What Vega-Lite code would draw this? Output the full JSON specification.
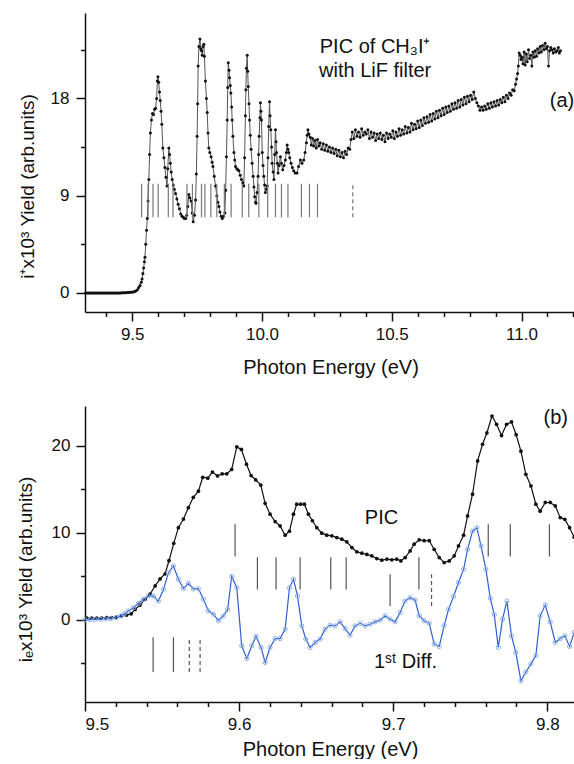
{
"$schema": "https://vega.github.io/schema/vega-lite/v6.json",
"background": "white",
"padding": {"left": 16, "top": 13, "right": 0, "bottom": 0},
"autosize": {"type": "pad"},
"bounds": "flush",
"spacing": 94,
"config": {
  "font": "Liberation Sans",
  "view": {"stroke": null},
  "axis": {"domainColor": "#111", "domainWidth": 1.5, "tickColor": "#111", "tickWidth": 1.5, "labelFontSize": 17, "labelColor": "#111", "titleFontSize": 19, "titleFontWeight": "normal", "titleColor": "#111", "grid": false}
},
"datasets": {
  "a": [
{"e":9.320,"y":0},{"e":9.325,"y":0},{"e":9.330,"y":0},{"e":9.335,"y":0},{"e":9.340,"y":0},{"e":9.345,"y":0},{"e":9.350,"y":0},{"e":9.355,"y":0},{"e":9.360,"y":0},{"e":9.365,"y":0},{"e":9.370,"y":0},{"e":9.375,"y":0},{"e":9.380,"y":0},{"e":9.385,"y":0},{"e":9.390,"y":0},{"e":9.395,"y":0},{"e":9.400,"y":0},{"e":9.405,"y":0},{"e":9.410,"y":0},{"e":9.415,"y":0},{"e":9.420,"y":0},{"e":9.425,"y":0},{"e":9.430,"y":0},{"e":9.435,"y":0},{"e":9.440,"y":0},{"e":9.445,"y":0},{"e":9.450,"y":0},{"e":9.455,"y":0},{"e":9.460,"y":0.02},{"e":9.465,"y":0.02},{"e":9.470,"y":0.03},{"e":9.475,"y":0.03},{"e":9.480,"y":0.04},{"e":9.485,"y":0.05},{"e":9.490,"y":0.06},{"e":9.495,"y":0.07},{"e":9.500,"y":0.08},{"e":9.505,"y":0.1},{"e":9.510,"y":0.13},{"e":9.515,"y":0.2},
{"e":9.520,"y":0.3},{"e":9.525,"y":0.5},{"e":9.530,"y":0.7},{"e":9.535,"y":1.0},{"e":9.538,"y":1.3},{"e":9.541,"y":1.8},{"e":9.544,"y":2.3},{"e":9.547,"y":2.9},{"e":9.549,"y":3.3},{"e":9.552,"y":4.5},{"e":9.555,"y":5.8},{"e":9.558,"y":6.9},{"e":9.561,"y":8.5},{"e":9.564,"y":10.5},{"e":9.567,"y":12.8},{"e":9.570,"y":14.8},{"e":9.574,"y":16.0},{"e":9.578,"y":16.6},{"e":9.582,"y":16.5},{"e":9.586,"y":17.0},{"e":9.590,"y":17.1},{"e":9.594,"y":18.0},{"e":9.597,"y":19.6},{"e":9.599,"y":20.0},{"e":9.602,"y":19.5},{"e":9.605,"y":18.6},{"e":9.608,"y":17.8},{"e":9.611,"y":16.8},{"e":9.614,"y":15.6},{"e":9.618,"y":13.4},{"e":9.622,"y":12.5},{"e":9.626,"y":11.6},{"e":9.630,"y":10.7},{"e":9.634,"y":9.9},{"e":9.637,"y":11.5},{"e":9.641,"y":13.4},{"e":9.644,"y":12.8},{"e":9.647,"y":12.0},{"e":9.650,"y":11.2},{"e":9.654,"y":10.5},{"e":9.658,"y":10.0},{"e":9.662,"y":9.6},{"e":9.667,"y":9.2},{"e":9.672,"y":8.7},{"e":9.677,"y":8.2},{"e":9.682,"y":7.8},{"e":9.687,"y":7.3},{"e":9.692,"y":7.1},{"e":9.697,"y":7.0},{"e":9.701,"y":6.9},{"e":9.706,"y":6.9},{"e":9.710,"y":7.2},{"e":9.714,"y":8.0},{"e":9.718,"y":9.1},{"e":9.722,"y":8.8},{"e":9.727,"y":8.5},{"e":9.731,"y":7.4},{"e":9.735,"y":6.6},{"e":9.740,"y":7.2},{"e":9.744,"y":8.6},{"e":9.747,"y":11.0},{"e":9.750,"y":14.5},{"e":9.752,"y":17.5},{"e":9.754,"y":21.0},{"e":9.757,"y":22.8},{"e":9.761,"y":23.5},{"e":9.764,"y":22.6},{"e":9.767,"y":22.4},{"e":9.770,"y":22.0},{"e":9.773,"y":22.8},{"e":9.776,"y":23.0},{"e":9.778,"y":21.9},{"e":9.782,"y":19.6},{"e":9.786,"y":18.0},{"e":9.789,"y":16.7},{"e":9.792,"y":14.8},{"e":9.795,"y":13.4},{"e":9.799,"y":13.0},{"e":9.804,"y":12.6},{"e":9.808,"y":12.1},{"e":9.811,"y":11.7},{"e":9.816,"y":10.8},{"e":9.821,"y":9.9},{"e":9.826,"y":9.0},{"e":9.830,"y":8.4},{"e":9.834,"y":8.0},{"e":9.838,"y":7.5},{"e":9.843,"y":7.1},{"e":9.847,"y":6.9},{"e":9.852,"y":7.1},{"e":9.857,"y":7.4},{"e":9.860,"y":9.5},{"e":9.863,"y":12.6},{"e":9.866,"y":16.0},{"e":9.868,"y":19.0},{"e":9.870,"y":21.3},{"e":9.873,"y":20.6},{"e":9.875,"y":19.9},{"e":9.878,"y":19.2},{"e":9.880,"y":18.5},{"e":9.883,"y":17.2},{"e":9.885,"y":16.0},{"e":9.888,"y":14.5},{"e":9.892,"y":13.0},{"e":9.895,"y":12.3},{"e":9.898,"y":11.7},{"e":9.903,"y":11.5},{"e":9.907,"y":11.4},{"e":9.911,"y":11.3},{"e":9.916,"y":10.9},{"e":9.921,"y":10.5},{"e":9.926,"y":10.2},{"e":9.930,"y":9.9},{"e":9.933,"y":12.5},{"e":9.936,"y":16.4},{"e":9.938,"y":18.8},{"e":9.940,"y":20.8},{"e":9.943,"y":22.0},{"e":9.945,"y":20.5},{"e":9.947,"y":19.1},{"e":9.950,"y":17.5},{"e":9.952,"y":16.0},{"e":9.955,"y":14.6},{"e":9.958,"y":13.3},{"e":9.962,"y":12.0},{"e":9.966,"y":10.8},{"e":9.969,"y":9.8},{"e":9.972,"y":8.9},{"e":9.975,"y":8.4},{"e":9.977,"y":8.3},{"e":9.981,"y":9.3},{"e":9.985,"y":10.8},{"e":9.987,"y":12.8},{"e":9.989,"y":14.5},{"e":9.992,"y":16.2},{"e":9.994,"y":17.6},{"e":9.996,"y":16.8},{"e":9.998,"y":16.0},{"e":10.001,"y":13.0},{"e":10.004,"y":11.8},{"e":10.007,"y":10.8},{"e":10.010,"y":10.0},{"e":10.013,"y":9.3},{"e":10.017,"y":9.6},{"e":10.020,"y":9.9},{"e":10.023,"y":12.5},{"e":10.026,"y":15.4},{"e":10.029,"y":17.7},{"e":10.031,"y":16.4},{"e":10.034,"y":15.1},{"e":10.037,"y":13.5},{"e":10.039,"y":12.0},{"e":10.043,"y":11.2},{"e":10.046,"y":10.5},{"e":10.049,"y":12.8},{"e":10.052,"y":15.1},{"e":10.054,"y":14.0},{"e":10.056,"y":13.0},{"e":10.059,"y":12.0},{"e":10.062,"y":11.1},{"e":10.066,"y":11.8},{"e":10.071,"y":12.6},{"e":10.075,"y":12.0},{"e":10.080,"y":11.4},{"e":10.085,"y":11.8},{"e":10.090,"y":12.3},{"e":10.094,"y":13.0},{"e":10.097,"y":13.7},{"e":10.100,"y":13.3},{"e":10.103,"y":13.0},{"e":10.107,"y":12.5},{"e":10.112,"y":12.0},{"e":10.117,"y":11.6},{"e":10.122,"y":11.3},{"e":10.128,"y":11.1},{"e":10.135,"y":11.1},{"e":10.141,"y":11.7},{"e":10.148,"y":12.3},{"e":10.154,"y":12.0},{"e":10.161,"y":12.3},{"e":10.166,"y":13.0},{"e":10.171,"y":13.9},{"e":10.174,"y":14.6},{"e":10.177,"y":15.1},{"e":10.181,"y":14.7},
{"e":10.186,"y":14.4},{"e":10.190,"y":13.7},{"e":10.195,"y":14.3},{"e":10.199,"y":13.6},{"e":10.204,"y":14.1},{"e":10.209,"y":13.4},{"e":10.214,"y":14.2},{"e":10.219,"y":13.6},{"e":10.224,"y":13.9},{"e":10.230,"y":13.3},{"e":10.236,"y":13.8},{"e":10.242,"y":13.2},{"e":10.248,"y":13.7},{"e":10.254,"y":13.1},{"e":10.260,"y":13.5},{"e":10.266,"y":13.0},{"e":10.272,"y":13.4},{"e":10.278,"y":12.9},{"e":10.284,"y":13.3},{"e":10.290,"y":12.7},{"e":10.296,"y":13.2},{"e":10.302,"y":12.6},{"e":10.308,"y":13.0},{"e":10.314,"y":12.5},{"e":10.320,"y":13.1},{"e":10.326,"y":12.8},{"e":10.332,"y":13.4},{"e":10.338,"y":13.3},{"e":10.343,"y":14.2},
{"e":10.348,"y":14.9},{"e":10.354,"y":14.3},{"e":10.360,"y":15.1},{"e":10.366,"y":14.5},{"e":10.372,"y":14.9},{"e":10.378,"y":14.4},{"e":10.384,"y":15.2},{"e":10.390,"y":14.6},{"e":10.396,"y":14.9},{"e":10.402,"y":14.7},{"e":10.408,"y":15.1},{"e":10.414,"y":14.3},{"e":10.420,"y":14.9},{"e":10.426,"y":14.4},{"e":10.432,"y":14.8},{"e":10.438,"y":14.1},{"e":10.444,"y":14.7},{"e":10.450,"y":14.3},{"e":10.456,"y":14.8},{"e":10.462,"y":14.2},{"e":10.468,"y":14.6},{"e":10.474,"y":14.0},{"e":10.480,"y":14.8},{"e":10.486,"y":14.3},{"e":10.492,"y":14.7},{"e":10.498,"y":14.4},{"e":10.504,"y":15.0},{"e":10.510,"y":14.3},{"e":10.516,"y":14.9},{"e":10.522,"y":14.5},{"e":10.528,"y":15.2},{"e":10.534,"y":14.6},{"e":10.540,"y":15.1},{"e":10.546,"y":14.7},{"e":10.552,"y":15.4},{"e":10.558,"y":14.8},{"e":10.564,"y":15.3},{"e":10.570,"y":14.9},{"e":10.576,"y":15.7},{"e":10.582,"y":15.1},{"e":10.588,"y":15.6},{"e":10.594,"y":15.2},{"e":10.600,"y":15.9},{"e":10.606,"y":15.3},{"e":10.612,"y":16.0},{"e":10.618,"y":15.5},{"e":10.624,"y":16.2},{"e":10.630,"y":15.7},{"e":10.636,"y":16.3},{"e":10.642,"y":15.8},{"e":10.648,"y":16.5},{"e":10.654,"y":15.9},{"e":10.660,"y":16.6},{"e":10.666,"y":16.1},{"e":10.672,"y":16.8},{"e":10.678,"y":16.2},{"e":10.684,"y":16.9},{"e":10.690,"y":16.4},{"e":10.696,"y":17.1},{"e":10.702,"y":16.5},{"e":10.708,"y":17.2},{"e":10.714,"y":16.7},{"e":10.720,"y":17.3},{"e":10.726,"y":16.8},{"e":10.732,"y":17.5},{"e":10.738,"y":17.0},{"e":10.744,"y":17.6},{"e":10.750,"y":17.1},{"e":10.756,"y":17.8},{"e":10.762,"y":17.2},{"e":10.768,"y":17.9},{"e":10.774,"y":17.4},{"e":10.780,"y":18.1},{"e":10.786,"y":17.5},{"e":10.792,"y":18.2},{"e":10.798,"y":17.7},{"e":10.804,"y":18.3},{"e":10.810,"y":17.9},{"e":10.816,"y":18.6},{"e":10.822,"y":18.0},{"e":10.828,"y":17.6},{"e":10.834,"y":17.3},{"e":10.840,"y":16.9},{"e":10.846,"y":17.2},{"e":10.852,"y":16.9},{"e":10.858,"y":17.3},{"e":10.864,"y":17.0},{"e":10.870,"y":17.5},{"e":10.876,"y":17.1},{"e":10.882,"y":17.6},{"e":10.888,"y":17.2},{"e":10.894,"y":17.7},{"e":10.900,"y":17.3},{"e":10.906,"y":17.8},{"e":10.912,"y":17.4},{"e":10.918,"y":17.9},{"e":10.924,"y":17.6},{"e":10.930,"y":18.1},{"e":10.936,"y":17.7},{"e":10.942,"y":18.3},{"e":10.948,"y":18.0},{"e":10.954,"y":18.5},{"e":10.960,"y":18.3},{"e":10.966,"y":18.8},{"e":10.972,"y":18.7},
{"e":10.977,"y":19.3},{"e":10.981,"y":19.8},{"e":10.985,"y":20.3},{"e":10.988,"y":21.0},{"e":10.991,"y":22.2},{"e":10.995,"y":22.0},{"e":10.998,"y":21.6},{"e":11.002,"y":21.8},{"e":11.006,"y":21.2},{"e":11.010,"y":22.3},{"e":11.014,"y":21.1},{"e":11.018,"y":22.1},{"e":11.022,"y":21.4},{"e":11.027,"y":22.5},{"e":11.031,"y":21.7},{"e":11.036,"y":22.0},{"e":11.040,"y":21.0},{"e":11.044,"y":22.3},{"e":11.049,"y":21.8},{"e":11.053,"y":22.4},{"e":11.058,"y":21.9},{"e":11.062,"y":22.6},{"e":11.067,"y":22.2},{"e":11.072,"y":22.8},{"e":11.076,"y":22.3},{"e":11.081,"y":22.9},{"e":11.086,"y":22.5},{"e":11.091,"y":23.1},{"e":11.095,"y":22.6},{"e":11.100,"y":22.8},{"e":11.104,"y":21.0},{"e":11.108,"y":22.4},{"e":11.113,"y":22.7},{"e":11.117,"y":22.5},{"e":11.122,"y":22.2},{"e":11.127,"y":22.6},{"e":11.132,"y":22.3},{"e":11.137,"y":22.4},{"e":11.142,"y":22.7},{"e":11.146,"y":22.2},{"e":11.150,"y":22.4}
  ],
  "ticksA": [
{"e":9.536,"lo":7.0,"hi":10.1,"k":"solid"},{"e":9.561,"lo":7.0,"hi":10.1,"k":"solid"},{"e":9.580,"lo":7.0,"hi":10.1,"k":"solid"},{"e":9.600,"lo":7.0,"hi":10.1,"k":"solid"},{"e":9.639,"lo":7.0,"hi":10.1,"k":"solid"},{"e":9.657,"lo":7.0,"hi":10.1,"k":"solid"},{"e":9.711,"lo":7.0,"hi":10.1,"k":"solid"},{"e":9.732,"lo":7.0,"hi":10.1,"k":"solid"},{"e":9.767,"lo":7.0,"hi":10.1,"k":"solid"},{"e":9.780,"lo":7.0,"hi":10.1,"k":"solid"},{"e":9.803,"lo":7.0,"hi":10.1,"k":"solid"},{"e":9.826,"lo":7.0,"hi":10.1,"k":"solid"},{"e":9.855,"lo":7.0,"hi":10.1,"k":"solid"},{"e":9.881,"lo":7.0,"hi":10.1,"k":"solid"},{"e":9.924,"lo":7.0,"hi":10.1,"k":"solid"},{"e":9.949,"lo":7.0,"hi":10.1,"k":"solid"},{"e":9.988,"lo":7.0,"hi":10.1,"k":"solid"},{"e":10.022,"lo":7.0,"hi":10.1,"k":"solid"},{"e":10.052,"lo":7.0,"hi":10.1,"k":"solid"},{"e":10.075,"lo":7.0,"hi":10.1,"k":"solid"},{"e":10.100,"lo":7.0,"hi":10.1,"k":"solid"},{"e":10.152,"lo":7.0,"hi":10.1,"k":"solid"},{"e":10.183,"lo":7.0,"hi":10.1,"k":"solid"},{"e":10.214,"lo":7.0,"hi":10.1,"k":"solid"},{"e":10.350,"lo":7.0,"hi":10.1,"k":"dashed"}
  ],
  "labA": [
{"e":10.436,"y":22.8,"t":"PIC of CH₃I⁺"},{"e":10.436,"y":20.5,"t":"with LiF filter"},{"e":11.156,"y":17.74,"t":"(a)"}
  ],
  "bpic": [
{"e":9.5011,"y":0.2},{"e":9.5043,"y":0.2},{"e":9.5076,"y":0.2},{"e":9.5108,"y":0.2},{"e":9.5141,"y":0.25},{"e":9.5173,"y":0.25},{"e":9.5206,"y":0.3},{"e":9.5238,"y":0.46},{"e":9.527,"y":0.55},{"e":9.530,"y":0.7},{"e":9.5325,"y":1.2},{"e":9.5357,"y":1.7},{"e":9.539,"y":2.36},{"e":9.5422,"y":2.95},{"e":9.5455,"y":3.9},{"e":9.5487,"y":4.7},{"e":9.552,"y":5.3},{"e":9.5545,"y":6.8},{"e":9.5576,"y":8.8},{"e":9.5606,"y":10.6},{"e":9.5639,"y":11.6},{"e":9.5671,"y":12.9},{"e":9.5703,"y":14.1},{"e":9.5736,"y":14.8},{"e":9.5764,"y":16.4},{"e":9.5797,"y":16.3},{"e":9.5827,"y":17.0},{"e":9.586,"y":16.55},{"e":9.589,"y":16.8},{"e":9.592,"y":16.8},{"e":9.5952,"y":17.3},{"e":9.5985,"y":19.9},{"e":9.6015,"y":19.6},{"e":9.6048,"y":17.9},{"e":9.6078,"y":16.6},{"e":9.6108,"y":16.1},{"e":9.6141,"y":15.5},{"e":9.6169,"y":13.4},{"e":9.6201,"y":12.15},{"e":9.6234,"y":11.3},{"e":9.6266,"y":10.8},{"e":9.6299,"y":9.74},{"e":9.6327,"y":10.2},{"e":9.6353,"y":12.15},{"e":9.6374,"y":13.3},{"e":9.640,"y":13.3},{"e":9.6424,"y":13.3},{"e":9.645,"y":12.15},{"e":9.6476,"y":11.4},{"e":9.6504,"y":10.6},{"e":9.6537,"y":9.97},{"e":9.6569,"y":9.74},{"e":9.6602,"y":9.66},{"e":9.6634,"y":9.47},{"e":9.6667,"y":9.28},{"e":9.6699,"y":8.97},{"e":9.6732,"y":8.32},{"e":9.6764,"y":7.82},{"e":9.6797,"y":7.67},{"e":9.6829,"y":7.52},{"e":9.6861,"y":7.36},{"e":9.6894,"y":7.05},{"e":9.6926,"y":6.86},{"e":9.6959,"y":6.98},{"e":9.6991,"y":6.9},{"e":9.7023,"y":6.98},{"e":9.705,"y":6.78},{"e":9.7078,"y":7.17},{"e":9.711,"y":7.93},{"e":9.7136,"y":8.7},{"e":9.7169,"y":9.2},{"e":9.7201,"y":9.1},{"e":9.7234,"y":9.1},{"e":9.7266,"y":8.12},{"e":9.7299,"y":7.17},{"e":9.7331,"y":6.59},{"e":9.7364,"y":6.78},{"e":9.7396,"y":7.36},{"e":9.7424,"y":8.5},{"e":9.7457,"y":9.74},{"e":9.7483,"y":11.96},{"e":9.7515,"y":14.45},{"e":9.7548,"y":18.28},{"e":9.758,"y":20.2},{"e":9.7608,"y":21.5},{"e":9.7641,"y":23.45},{"e":9.7671,"y":22.5},{"e":9.7703,"y":21.2},{"e":9.7736,"y":22.5},{"e":9.7768,"y":22.76},{"e":9.7798,"y":21.3},{"e":9.7829,"y":19.4},{"e":9.7861,"y":16.74},{"e":9.7894,"y":15.4},{"e":9.7926,"y":13.3},{"e":9.7954,"y":12.5},{"e":9.7987,"y":13.5},{"e":9.8019,"y":13.5},{"e":9.8052,"y":13.1},{"e":9.8084,"y":11.76},{"e":9.8114,"y":11.56},{"e":9.8145,"y":10.6},{"e":9.8175,"y":9.5}
  ],
  "bdiff": [
{"e":9.5,"y":0},{"e":9.5033,"y":0.02},{"e":9.5066,"y":0.05},{"e":9.51,"y":0.05},{"e":9.5133,"y":0.1},{"e":9.5166,"y":0.15},{"e":9.52,"y":0.25},{"e":9.5233,"y":0.45},{"e":9.5255,"y":0.7},{"e":9.5281,"y":1.03},{"e":9.5314,"y":1.4},{"e":9.5346,"y":1.9},{"e":9.5379,"y":2.36},{"e":9.541,"y":2.74},{"e":9.5444,"y":2.74},{"e":9.5476,"y":2.16},{"e":9.5509,"y":3.5},{"e":9.5541,"y":5.4},{"e":9.5574,"y":6.2},{"e":9.5606,"y":4.67},{"e":9.5639,"y":3.6},{"e":9.5671,"y":4.2},{"e":9.5703,"y":3.56},{"e":9.5736,"y":3.6},{"e":9.5768,"y":2.4},{"e":9.5801,"y":1.03},{"e":9.5833,"y":0.65},{"e":9.5866,"y":-0.1},{"e":9.5898,"y":0.46},{"e":9.5926,"y":1.2},{"e":9.5952,"y":5.0},{"e":9.5985,"y":3.7},{"e":9.6017,"y":-2.98},{"e":9.605,"y":-4.44},{"e":9.6082,"y":-2.98},{"e":9.611,"y":-1.9},{"e":9.6143,"y":-3.2},{"e":9.6169,"y":-4.9},{"e":9.6201,"y":-3.18},{"e":9.6234,"y":-2.15},{"e":9.6266,"y":-2.15},{"e":9.6299,"y":-1.07},{"e":9.6327,"y":3.7},{"e":9.6353,"y":4.67},{"e":9.6379,"y":2.75},{"e":9.6407,"y":-0.7},{"e":9.6433,"y":-2.2},{"e":9.6461,"y":-3.18},{"e":9.6494,"y":-2.6},{"e":9.6526,"y":-2.2},{"e":9.6558,"y":-1.07},{"e":9.6591,"y":-0.6},{"e":9.6623,"y":-0.7},{"e":9.6656,"y":-0.23},{"e":9.6688,"y":-1.0},{"e":9.672,"y":-1.76},{"e":9.6753,"y":-0.7},{"e":9.6786,"y":-0.4},{"e":9.6818,"y":-0.7},{"e":9.685,"y":-0.5},{"e":9.6883,"y":-0.23},{"e":9.6915,"y":-0.04},{"e":9.6948,"y":0.46},{"e":9.698,"y":0.08},{"e":9.7012,"y":-0.23},{"e":9.7045,"y":0.84},{"e":9.7077,"y":2.16},{"e":9.711,"y":2.54},{"e":9.7142,"y":2.28},{"e":9.7169,"y":0.46},{"e":9.7201,"y":-0.1},{"e":9.7234,"y":-0.4},{"e":9.7266,"y":-2.8},{"e":9.7299,"y":-3.06},{"e":9.7331,"y":-0.67},{"e":9.7359,"y":1.2},{"e":9.7392,"y":2.7},{"e":9.7424,"y":4.3},{"e":9.7457,"y":5.8},{"e":9.7483,"y":8.1},{"e":9.7515,"y":10.2},{"e":9.7543,"y":10.6},{"e":9.757,"y":8.5},{"e":9.7602,"y":5.8},{"e":9.763,"y":2.5},{"e":9.7656,"y":0.6},{"e":9.7682,"y":-3.18},{"e":9.771,"y":0.08},{"e":9.7738,"y":2.16},{"e":9.7768,"y":-1.84},{"e":9.7796,"y":-3.75},{"e":9.7829,"y":-7.0},{"e":9.7861,"y":-6.0},{"e":9.7894,"y":-5.06},{"e":9.7926,"y":-4.1},{"e":9.7954,"y":0.46},{"e":9.7987,"y":1.7},{"e":9.8019,"y":-0.23},{"e":9.8052,"y":-2.6},{"e":9.8084,"y":-2.15},{"e":9.8114,"y":-1.84},{"e":9.8145,"y":-3.06},{"e":9.8175,"y":-1.45}
  ],
  "ticksB": [
{"e":9.5974,"lo":7.3,"hi":11.0,"k":"solid"},{"e":9.7617,"lo":7.3,"hi":11.0,"k":"solid"},{"e":9.776,"lo":7.3,"hi":11.0,"k":"solid"},{"e":9.8014,"lo":7.3,"hi":11.0,"k":"solid"},
{"e":9.6119,"lo":3.5,"hi":7.2,"k":"solid"},{"e":9.624,"lo":3.5,"hi":7.2,"k":"solid"},{"e":9.6396,"lo":3.5,"hi":7.2,"k":"solid"},{"e":9.6595,"lo":3.5,"hi":7.2,"k":"solid"},{"e":9.6695,"lo":3.5,"hi":7.2,"k":"solid"},{"e":9.7167,"lo":3.5,"hi":7.2,"k":"solid"},
{"e":9.698,"lo":1.6,"hi":5.25,"k":"solid"},{"e":9.7249,"lo":1.6,"hi":5.25,"k":"dashed"},
{"e":9.5442,"lo":-6.0,"hi":-2.0,"k":"solid"},{"e":9.5574,"lo":-6.0,"hi":-2.0,"k":"solid"},{"e":9.5677,"lo":-6.0,"hi":-2.0,"k":"dashed"},{"e":9.5747,"lo":-6.0,"hi":-2.0,"k":"dashed"}
  ],
  "labB": [
{"e":9.8055,"y":23.26,"t":"(b)"},{"e":9.6924,"y":11.77,"t":"PIC"},{"e":9.708,"y":-4.86,"t":"1ˢᵗ Diff."}
  ]
},
"vconcat": [
{
  "width": 491, "height": 299,
  "resolve": {"axis": {"x": "independent", "y": "independent"}},
  "layer": [
    {"data": {"name": "a"}, "mark": {"type": "line", "color": "#555", "strokeWidth": 1},
     "encoding": {
       "x": {"field": "e", "type": "quantitative", "scale": {"domain": [9.318, 11.21], "nice": false, "zero": false},
             "axis": {"orient": "bottom", "values": [9.5, 10, 10.5, 11], "format": ".1f", "title": "Photon Energy (eV)", "tickSize": 9, "labelPadding": 5, "titleFontSize": 20, "titleY": 55, "titleBaseline": "middle"}},
       "y": {"field": "y", "type": "quantitative", "scale": {"domain": [-1.76, 25.9], "nice": false, "zero": false},
             "axis": {"orient": "left", "values": [0, 9, 18], "title": "i⁺x10³ Yield (arb.units)", "tickSize": 9, "labelPadding": 7, "titleX": -58, "titleY": 173, "titleBaseline": "middle"}}
     }},
    {"data": {"name": "a"}, "mark": {"type": "point", "filled": true, "color": "#111", "size": 9, "opacity": 1},
     "encoding": {
       "x": {"field": "e", "type": "quantitative", "scale": {"domain": [9.318, 11.21], "nice": false, "zero": false},
             "axis": {"orient": "bottom", "values": [9.4, 9.6, 9.7, 9.8, 9.9, 10.1, 10.2, 10.3, 10.4, 10.6, 10.7, 10.8, 10.9, 11.1, 11.2], "labels": false, "domain": false, "tickSize": 4.5, "title": null}},
       "y": {"field": "y", "type": "quantitative", "scale": {"domain": [-1.76, 25.9], "nice": false, "zero": false},
             "axis": {"orient": "left", "values": [4.5, 13.5, 22.5], "labels": false, "domain": false, "tickSize": 4.5, "title": null}}
     }},
    {"data": {"name": "ticksA"}, "mark": {"type": "rule", "color": "#777", "strokeWidth": 1.2},
     "encoding": {
       "x": {"field": "e", "type": "quantitative", "axis": null, "scale": {"domain": [9.318, 11.21], "nice": false, "zero": false}},
       "y": {"field": "lo", "type": "quantitative", "axis": null, "scale": {"domain": [-1.76, 25.9], "nice": false, "zero": false}},
       "y2": {"field": "hi"},
       "strokeDash": {"field": "k", "type": "nominal", "scale": {"domain": ["solid", "dashed"], "range": [[1, 0], [4, 3]]}, "legend": null}
     }},
    {"data": {"name": "labA"}, "mark": {"type": "text", "color": "#111", "align": "center", "baseline": "middle", "fontSize": 20},
     "encoding": {
       "x": {"field": "e", "type": "quantitative", "axis": null, "scale": {"domain": [9.318, 11.21], "nice": false, "zero": false}},
       "y": {"field": "y", "type": "quantitative", "axis": null, "scale": {"domain": [-1.76, 25.9], "nice": false, "zero": false}},
       "text": {"field": "t"}
     }}
  ]
},
{
  "width": 490, "height": 296,
  "resolve": {"axis": {"x": "independent", "y": "independent"}},
  "layer": [
    {"data": {"name": "bpic"}, "mark": {"type": "line", "color": "#111", "strokeWidth": 1.2},
     "encoding": {
       "x": {"field": "e", "type": "quantitative", "scale": {"domain": [9.5, 9.818], "nice": false, "zero": false},
             "axis": {"orient": "bottom", "values": [9.5, 9.6, 9.7, 9.8], "format": ".1f", "title": "Photon Energy (eV)", "tickSize": 9, "labelPadding": 5, "titleFontSize": 20, "titleY": 47, "titleBaseline": "middle"}},
       "y": {"field": "y", "type": "quantitative", "scale": {"domain": [-9.45, 24.6], "nice": false, "zero": false},
             "axis": {"orient": "left", "values": [0, 10, 20], "title": "iₑx10³ Yield (arb.units)", "tickSize": 9, "labelPadding": 6, "titleX": -60, "titleY": 163, "titleBaseline": "middle"}}
     }},
    {"data": {"name": "bpic"}, "mark": {"type": "point", "filled": true, "color": "#111", "size": 14, "opacity": 1},
     "encoding": {
       "x": {"field": "e", "type": "quantitative", "scale": {"domain": [9.5, 9.818], "nice": false, "zero": false},
             "axis": {"orient": "bottom", "values": [9.52, 9.54, 9.56, 9.58, 9.62, 9.64, 9.66, 9.68, 9.72, 9.74, 9.76, 9.78], "labels": false, "domain": false, "tickSize": 4.5, "title": null}},
       "y": {"field": "y", "type": "quantitative", "scale": {"domain": [-9.45, 24.6], "nice": false, "zero": false},
             "axis": {"orient": "left", "values": [-5, 5, 15], "labels": false, "domain": false, "tickSize": 4.5, "title": null}}
     }},
    {"data": {"name": "bdiff"}, "mark": {"type": "line", "color": "#2f5fd0", "strokeWidth": 1.2},
     "encoding": {
       "x": {"field": "e", "type": "quantitative", "axis": null, "scale": {"domain": [9.5, 9.818], "nice": false, "zero": false}},
       "y": {"field": "y", "type": "quantitative", "axis": null, "scale": {"domain": [-9.45, 24.6], "nice": false, "zero": false}}
     }},
    {"data": {"name": "bdiff"}, "mark": {"type": "point", "filled": false, "color": "#8fb0ea", "size": 18, "strokeWidth": 1, "opacity": 1},
     "encoding": {
       "x": {"field": "e", "type": "quantitative", "axis": null, "scale": {"domain": [9.5, 9.818], "nice": false, "zero": false}},
       "y": {"field": "y", "type": "quantitative", "axis": null, "scale": {"domain": [-9.45, 24.6], "nice": false, "zero": false}}
     }},
    {"data": {"name": "ticksB"}, "mark": {"type": "rule", "color": "#555", "strokeWidth": 1.2},
     "encoding": {
       "x": {"field": "e", "type": "quantitative", "axis": null, "scale": {"domain": [9.5, 9.818], "nice": false, "zero": false}},
       "y": {"field": "lo", "type": "quantitative", "axis": null, "scale": {"domain": [-9.45, 24.6], "nice": false, "zero": false}},
       "y2": {"field": "hi"},
       "strokeDash": {"field": "k", "type": "nominal", "scale": {"domain": ["solid", "dashed"], "range": [[1, 0], [4, 3]]}, "legend": null}
     }},
    {"data": {"name": "labB"}, "mark": {"type": "text", "color": "#111", "align": "center", "baseline": "middle", "fontSize": 20},
     "encoding": {
       "x": {"field": "e", "type": "quantitative", "axis": null, "scale": {"domain": [9.5, 9.818], "nice": false, "zero": false}},
       "y": {"field": "y", "type": "quantitative", "axis": null, "scale": {"domain": [-9.45, 24.6], "nice": false, "zero": false}},
       "text": {"field": "t"}
     }}
  ]
}
]
}
